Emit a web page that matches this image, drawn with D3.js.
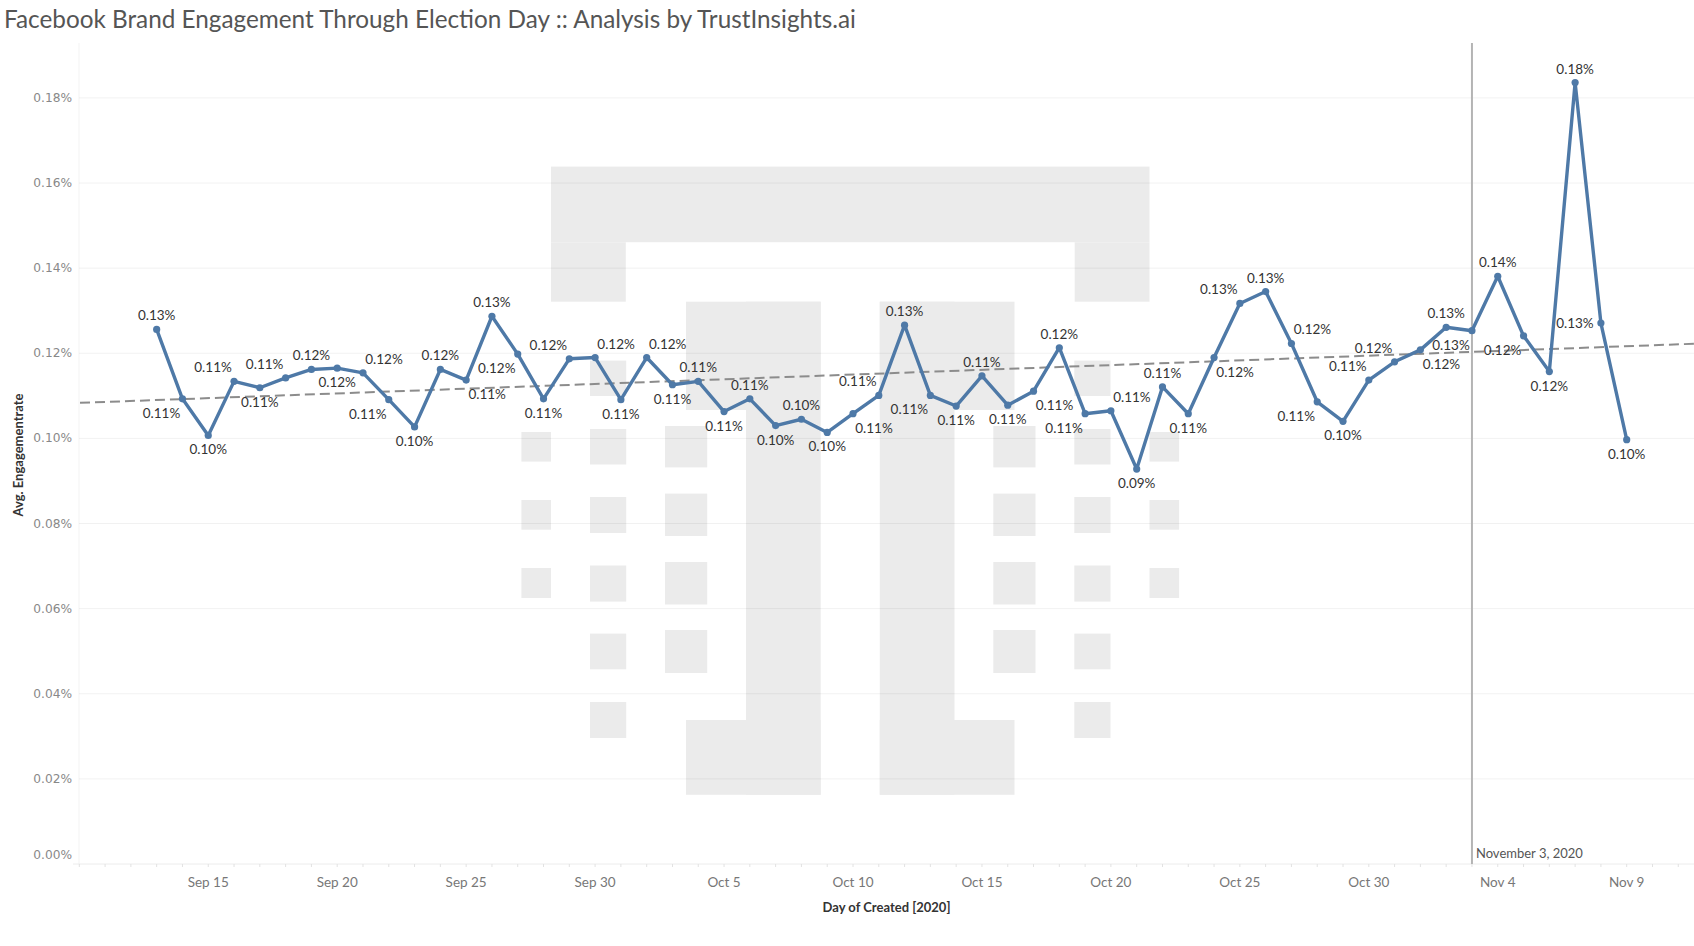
<!DOCTYPE html>
<html>
<head>
<meta charset="utf-8">
<script src="https://cdn.jsdelivr.net/npm/d3@7"></script>
<style>
body { margin: 0; background: #fff; }
svg text { font-family: Lato, "Open Sans", sans-serif; }
</style>
</head>
<body>
<svg id="chart" width="1694" height="946"></svg>
<script>
// daily average engagement rate (in %), Sep 13 .. Nov 9 2020
var firstDay = "2020-09-13";
var engagement = [
	0.1256, 0.1093, 0.1007, 0.1134, 0.1119, 0.1142, 0.1162, 0.1165, 0.1154, 0.1091,
	0.1027, 0.1162, 0.1137, 0.1287, 0.1198, 0.1093, 0.1187, 0.1190, 0.1091, 0.1190,
	0.1126, 0.1134, 0.1063, 0.1093, 0.1030, 0.1045, 0.1014, 0.1058, 0.1101, 0.1266,
	0.1101, 0.1076, 0.1147, 0.1078, 0.1111, 0.1213, 0.1058, 0.1065, 0.0928, 0.1121,
	0.1058, 0.1190, 0.1317, 0.1345, 0.1223, 0.1086, 0.1040, 0.1137, 0.1180, 0.1208,
	0.1261, 0.1253, 0.1381, 0.1241, 0.1157, 0.1836, 0.1271, 0.0997
]
// where tableau put each mark label (t = top, b = bottom, l/r = left/right)
var labelPos = [
	"t", "bl", "b", "tl", "b", "tl", "t", "b", "tr", "bl",
	"b", "t", "br", "t", "bl", "b", "tl", "tr", "b", "tr",
	"b", "t", "b", "t", "b", "t", "b", "br", "tl", "t",
	"bl", "b", "t", "b", "br", "t", "bl", "tr", "b", "t",
	"b", "br", "tl", "t", "tr", "bl", "b", "tl", "tl", "br",
	"t", "bl", "t", "bl", "b", "t", "l", "b"
]
var yTicks = [0, 0.02, 0.04, 0.06, 0.08, 0.10, 0.12, 0.14, 0.16, 0.18]
var xTickDates = ["2020-09-15", "2020-09-20", "2020-09-25", "2020-09-30", "2020-10-05", "2020-10-10",
	"2020-10-15", "2020-10-20", "2020-10-25", "2020-10-30", "2020-11-04", "2020-11-09"]
var xTickLabels = ["Sep 15", "Sep 20", "Sep 25", "Sep 30", "Oct 5", "Oct 10",
	"Oct 15", "Oct 20", "Oct 25", "Oct 30", "Nov 4", "Nov 9"]
var electionDay = "2020-11-03"
var electionLabel = "November 3, 2020"

var parse = d3.utcParse("%Y-%m-%d")
var start = parse(firstDay)
var data = engagement.map(function(v, i) {
	return {date: d3.utcDay.offset(start, i), value: v, pos: labelPos[i]}
})

var width = 1694, height = 946
var plot = {left: 79, right: 1694, top: 43, bottom: 864}

var svg = d3.select("#chart")

var xScale = d3.scaleUtc()
	.domain([parse("2020-09-10"), parse("2020-11-09")])
	.range([79.3, 1626.7])
var yScale = d3.scaleLinear()
	.domain([0, 0.1929])
	.range([plot.bottom, plot.top])

// title
svg.append("text")
	.attr("x", 4)
	.attr("y", 18)
	.attr("dominant-baseline", "central")
	.style("font-size", "24.3px")
	.style("fill", "#555")
	.text("Facebook Brand Engagement Through Election Day :: Analysis by TrustInsights.ai")

// watermark logo: top bar, then left half pieces mirrored around its centre
var logoMid = 850.25
var logoHalf = [
	[551, 625.8, 242.2, 301.7],
	[686, 820.7, 301.7, 410],
	[746, 820.7, 301.7, 794.8],
	[686, 820.7, 720, 794.8],
	[521.4, 551, 432, 461.6], [521.4, 551, 500, 529.7], [521.4, 551, 568, 598],
	[590, 626.2, 360.6, 396], [590, 626.2, 429, 464.5], [590, 626.2, 497, 533],
	[590, 626.2, 565.5, 601.6], [590, 626.2, 633.6, 669.3], [590, 626.2, 702, 738],
	[665, 707.2, 426, 467.4], [665, 707.2, 493.6, 536], [665, 707.2, 562, 604.5], [665, 707.2, 630, 673]
]
var logo = [[551, 1149.5, 166.6, 242.2]]
logoHalf.forEach(function(r) {
	logo.push(r)
	logo.push([2 * logoMid - r[1], 2 * logoMid - r[0], r[2], r[3]])
})
svg.append("g").attr("class", "watermark")
	.selectAll("rect")
	.data(logo).enter()
	.append("rect")
		.attr("x", function(r) { return r[0] })
		.attr("y", function(r) { return r[2] })
		.attr("width", function(r) { return r[1] - r[0] })
		.attr("height", function(r) { return r[3] - r[2] })
		.style("fill", "#ebebeb")

// grid
var grid = svg.append("g").attr("class", "grid")
grid.selectAll("line")
	.data(yTicks.slice(1)).enter()
	.append("line")
		.attr("x1", plot.left)
		.attr("x2", plot.right)
		.attr("y1", function(d) { return yScale(d) })
		.attr("y2", function(d) { return yScale(d) })
		.style("stroke", "rgba(0,0,0,0.055)")
grid.append("line")
	.attr("x1", plot.left).attr("x2", plot.left)
	.attr("y1", plot.top).attr("y2", plot.bottom)
	.style("stroke", "rgba(0,0,0,0.05)")
grid.append("line")
	.attr("x1", plot.left - 6).attr("x2", plot.right)
	.attr("y1", plot.bottom).attr("y2", plot.bottom)
	.style("stroke", "#ececec")

// y axis labels
svg.append("g")
	.selectAll("text")
	.data(yTicks).enter()
	.append("text")
		.attr("x", 72)
		.attr("y", function(d) { return d == 0 ? yScale(d) - 9 : yScale(d) })
		.attr("text-anchor", "end")
		.attr("dominant-baseline", "central")
		.style("font-family", "'DejaVu Sans', sans-serif")
		.style("font-size", "12.2px")
		.style("fill", "#888")
		.text(function(d) { return d3.format(".2f")(d) + "%" })

svg.append("text")
	.attr("transform", "translate(" + 18 + "," + 455 + ") rotate(-90)")
	.attr("text-anchor", "middle")
	.attr("dominant-baseline", "central")
	.style("font-size", "13px")
	.style("font-weight", "bold")
	.style("fill", "#333")
	.text("Avg. Engagementrate")

// x axis: a small tick for every day, labels every 5 days
var days = d3.utcDay.range(parse("2020-09-10"), parse("2020-11-12"))
svg.append("g")
	.selectAll("line")
	.data(days).enter()
	.append("line")
		.attr("x1", function(d) { return xScale(d) })
		.attr("x2", function(d) { return xScale(d) })
		.attr("y1", plot.bottom)
		.attr("y2", plot.bottom + 3)
		.style("stroke", "#e2e2e2")

svg.append("g")
	.selectAll("text")
	.data(xTickDates).enter()
	.append("text")
		.attr("x", function(d) { return xScale(parse(d)) })
		.attr("y", 882)
		.attr("text-anchor", "middle")
		.attr("dominant-baseline", "central")
		.style("font-size", "13.5px")
		.style("fill", "#777")
		.text(function(d, i) { return xTickLabels[i] })

svg.append("text")
	.attr("x", (plot.left + plot.right) / 2)
	.attr("y", 907)
	.attr("text-anchor", "middle")
	.attr("dominant-baseline", "central")
	.style("font-size", "13px")
	.style("font-weight", "bold")
	.style("fill", "#333")
	.text("Day of Created [2020]")

// election day reference line
var xe = xScale(parse(electionDay))
svg.append("line")
	.attr("x1", xe).attr("x2", xe)
	.attr("y1", plot.top).attr("y2", plot.bottom)
	.style("stroke", "#b4b4b4")
	.style("stroke-width", 2)
svg.append("text")
	.attr("x", xe + 4)
	.attr("y", 853)
	.attr("dominant-baseline", "central")
	.style("font-size", "13px")
	.style("fill", "#555")
	.text(electionLabel)

// linear trend line (least squares)
var xs = data.map(function(d) { return +d.date })
var ys = data.map(function(d) { return d.value })
var mx = d3.mean(xs), my = d3.mean(ys)
var sxy = d3.sum(xs, function(x, i) { return (x - mx) * (ys[i] - my) })
var sxx = d3.sum(xs, function(x) { return (x - mx) * (x - mx) })
var slope = sxy / sxx
function trend(t) { return my + slope * (t - mx) }
var t0 = +xScale.invert(plot.left + 1), t1 = +xScale.invert(plot.right)
svg.append("line")
	.attr("x1", xScale(t0)).attr("y1", yScale(trend(t0)))
	.attr("x2", xScale(t1)).attr("y2", yScale(trend(t1)))
	.style("stroke", "#8c8c8c")
	.style("stroke-width", 2)
	.style("stroke-dasharray", "10,5")

// the series
var line = d3.line()
	.x(function(d) { return xScale(d.date) })
	.y(function(d) { return yScale(d.value) })
svg.append("path")
	.datum(data)
	.attr("d", line)
	.style("fill", "none")
	.style("stroke", "#4e79a7")
	.style("stroke-width", 3.4)
	.style("stroke-linejoin", "round")

svg.append("g")
	.selectAll("circle")
	.data(data).enter()
	.append("circle")
		.attr("cx", function(d) { return xScale(d.date) })
		.attr("cy", function(d) { return yScale(d.value) })
		.attr("r", 3.6)
		.style("fill", "#4e79a7")

var offsets = {t: [0, -14], b: [0, 14], tl: [-21, -14], tr: [21, -14], bl: [-21, 14], br: [21, 14], l: [-26, 0]}
svg.append("g")
	.selectAll("text")
	.data(data).enter()
	.append("text")
		.attr("x", function(d) { return xScale(d.date) + offsets[d.pos][0] })
		.attr("y", function(d) { return yScale(d.value) + offsets[d.pos][1] })
		.attr("text-anchor", "middle")
		.attr("dominant-baseline", "central")
		.style("font-size", "13.5px")
		.style("fill", "#333")
		.text(function(d) { return d3.format(".2f")(d.value) + "%" })
</script>
</body>
</html>
